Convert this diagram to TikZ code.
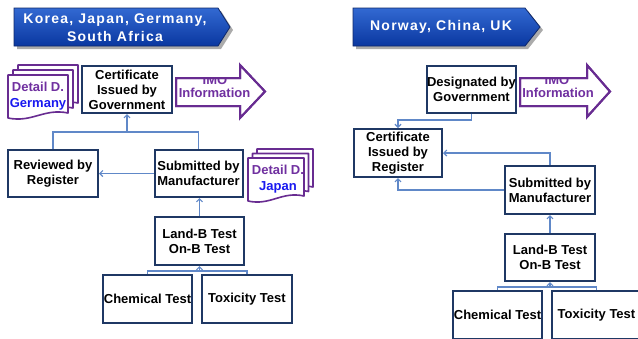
\documentclass[tikz,border=0pt]{standalone}
\usepackage{fontspec}
\setmainfont{Liberation Sans}
\newfontfamily\bannerfont[LetterSpace=9]{Liberation Sans}
\usetikzlibrary{arrows.meta}
\definecolor{boxc}{RGB}{31,56,100}
\definecolor{connc}{RGB}{96,136,200}
\definecolor{purp}{RGB}{104,44,145}
\definecolor{ptext}{RGB}{112,48,160}
\definecolor{dblue}{RGB}{25,25,240}
\definecolor{bantop}{RGB}{50,105,210}
\definecolor{banbot}{RGB}{10,55,160}
\definecolor{banedge}{RGB}{15,40,105}
\newcommand\mydocpage[4]{%
  \filldraw[docst] (#1,#2) -- ({#1+#3},#2) -- ({#1+#3},{#2+#4-5})
    .. controls ({#1+0.6*#3},{#2+#4-10}) and ({#1+0.4*#3},{#2+#4+5}) .. (#1,{#2+#4}) -- cycle;}
\begin{document}
\begin{tikzpicture}[x=1pt,y=-1pt,
  box/.style={draw=boxc,line width=2pt,fill=white,minimum width=#1,minimum height=47pt,
    inner sep=0pt,align=center,font=\bfseries\fontsize{13}{15}\selectfont},
  box/.default=90pt,
  conn/.style={draw=connc,line width=1.2pt},
  arr/.style={conn,-{Straight Barb[length=3pt,width=6pt]}},
  docst/.style={draw=purp,fill=white,line width=1.6pt,line join=round},
  dtext/.style={inner sep=0pt,align=center,font=\bfseries\fontsize{13}{16}\selectfont},
  imost/.style={draw=purp,fill=white,line width=2pt,line join=miter},
  imotext/.style={inner sep=0pt,text=ptext,font=\bfseries\fontsize{13}{15}\selectfont},
  banner/.style={top color=bantop,bottom color=banbot,draw=banedge,line width=0.8pt},
  shadowst/.style={fill=black!55,opacity=0.6},
  bantext/.style={inner sep=0pt,align=center,text=white,font=\bannerfont\bfseries\fontsize{14}{18}\selectfont}]
\useasboundingbox (0,0) rectangle (638,338);
\clip (0,0) rectangle (638,338);

% ---------- banners ----------
\fill[shadowst] (17,11) -- (221,11) -- (233,30) -- (221,49) -- (17,49) -- cycle;
\path[banner] (14,8) -- (218,8) -- (230,27) -- (218,46) -- (14,46) -- cycle;
\node[bantext] (banL) at (115,28) {Korea, Japan, Germany,\\South Africa};
\fill[shadowst] (356,11) -- (528,11) -- (543,30) -- (528,49) -- (356,49) -- cycle;
\path[banner] (353,8) -- (525,8) -- (540,27) -- (525,46) -- (353,46) -- cycle;
\node[bantext] (banR) at (441,27) {Norway, China, UK};

% ---------- left column ----------
\mydocpage{18}{65}{60}{43}
\mydocpage{13}{70}{60}{43}
\mydocpage{8}{75}{60}{43}
\node[dtext] (detG) at (38,96) {\textcolor{ptext}{Detail D.}\\\textcolor{dblue}{Germany}};

\node[box] (certG) at (127,89.5) {Certificate\\Issued by\\Government};

\filldraw[imost] (176,78) -- (240,78) -- (240,65) -- (265,91.5) -- (240,118) -- (240,106) -- (176,106) -- cycle;
\begin{scope}
\clip (176,79) rectangle (270,120);
\node[imotext] (imoL1) at (215,80.5) {IMO};
\node[imotext] (imoL2) at (214.5,93) {Information};
\end{scope}
\draw[imost,fill=none] (176,78) -- (240,78) -- (240,65) -- (265,91.5) -- (240,118) -- (240,106) -- (176,106) -- cycle;

\node[box] (rev) at (53,173.5) {Reviewed by\\Register};
\node[box=88pt] (subL) at (198.5,173.5) {Submitted by\\Manufacturer};

\mydocpage{257}{149}{56}{43}
\mydocpage{252.5}{153.5}{56}{43}
\mydocpage{248}{158}{56}{43}
\node[dtext] (detJ) at (278,179) {\textcolor{ptext}{Detail D.}\\\textcolor{dblue}{Japan}};

\node[box=89pt,minimum height=48pt] (landL) at (199.5,241) {Land-B Test\\On-B Test};
\node[box=89pt,minimum height=48pt] (chemL) at (147.5,299) {Chemical Test};
\node[box=90pt,minimum height=48pt] (toxL) at (247,299) {Toxicity Test};

\coordinate (jL1) at (127,132);
\coordinate (jL2) at (199.5,271);
\draw[conn] (rev.north) |- (jL1) -| (subL.north);
\draw[arr] (jL1) -- (certG.south);
\draw[arr] (subL.west) -- (rev.east);
\draw[arr] (landL.north) -- (subL.south -| landL.north);
\draw[conn] (chemL.north) |- (jL2) -| (toxL.north);
\draw[arr] (jL2) -- (landL.south);

% ---------- right column ----------
\node[box=89pt] (desG) at (471.5,89.5) {Designated by\\Government};

\filldraw[imost] (520,78) -- (587,78) -- (587,65) -- (610,91.5) -- (587,117) -- (587,106) -- (520,106) -- cycle;
\begin{scope}
\clip (520,79) rectangle (615,120);
\node[imotext] (imoR1) at (557,80.5) {IMO};
\node[imotext] (imoR2) at (558,93) {Information};
\end{scope}
\draw[imost,fill=none] (520,78) -- (587,78) -- (587,65) -- (610,91.5) -- (587,117) -- (587,106) -- (520,106) -- cycle;

\node[box=88pt,minimum height=48pt] (certR) at (398,153) {Certificate\\Issued by\\Register};
\node[box=90pt,minimum height=48pt] (subR) at (550,190) {Submitted by\\Manufacturer};
\node[box=90pt] (landR) at (550,257.5) {Land-B Test\\On-B Test};
\node[box=89pt,minimum height=48pt] (chemR) at (497.5,315) {Chemical Test};
\node[box=89pt,minimum height=48pt] (toxR) at (596.5,315) {Toxicity Test};

\coordinate (jR1) at (471.5,120);
\coordinate (jR2) at (550,287);
\draw[arr] (desG.south) -- (jR1) -| (certR.north);
\draw[arr] (subR.north) |- (certR.east);
\draw[arr] (subR.west) -| (certR.south);
\draw[arr] (landR.north) -- (subR.south);
\draw[conn] (chemR.north) |- (jR2) -| (toxR.north);
\draw[arr] (jR2) -- (landR.south);
\end{tikzpicture}
\end{document}
